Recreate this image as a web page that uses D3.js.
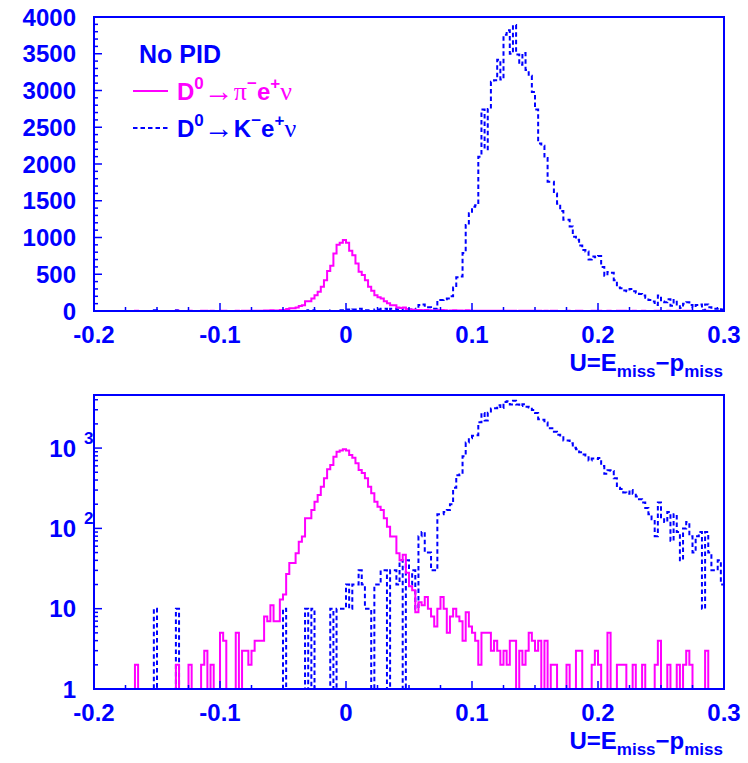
<!DOCTYPE html>
<html><head><meta charset="utf-8">
<script src="https://cdn.jsdelivr.net/npm/d3@7"></script>
<style>body{margin:0;background:#fff}</style>
</head><body><svg id="c" width="748" height="763"></svg>
<script>
// ---------------- data ----------------
const xMin = -0.2, xMax = 0.3;   // histogram range, 200 bins of 0.0025
const pionCounts = [
 0,0,0,0,0,0,0,0,0,0,
 1,0,0,2,0,0,0,0,0,0,
 0,0,0,0,0,0,2,0,0,0,
 2,0,0,0,2,3,0,2,0,0,
 5,4,1,0,1,5,1,3,3,2,
 3,4,4,4,8,7,11,7,7,13,
 15,27,37,37,49,68,79,134,134,169,
 215,261,330,420,545,617,782,902,930,966,
 930,820,760,646,533,490,420,330,274,215,
 186,169,134,105,79,79,49,40,47,28,
 19,17,9,12,11,14,10,8,6,10,
 14,10,5,8,10,8,7,4,9,6,
 5,4,2,5,5,5,3,4,3,2,
 3,2,4,4,0,3,2,3,5,4,
 3,4,0,4,0,2,2,0,0,0,
 2,0,0,3,3,0,0,0,2,3,
 2,0,0,5,0,0,2,2,2,0,
 0,2,0,0,2,0,0,0,2,4,
 0,0,2,0,0,2,0,2,3,2,
 0,0,0,0,3,0,0,0,0,0
];
const kaonCounts = [
 0,0,0,0,0,0,0,0,0,0,
 0,0,0,0,0,0,0,0,0,10,
 0,0,0,0,0,0,10,0,0,0,
 0,0,0,0,0,0,0,0,0,0,
 0,0,0,0,0,0,0,0,0,0,
 0,0,0,0,0,0,0,0,0,0,
 10,0,0,0,0,0,0,10,0,10,
 0,0,0,0,0,10,0,10,10,10,
 20,10,20,20,30,20,10,10,0,20,
 20,30,30,0,30,30,20,40,0,40,
 20,30,10,80,90,50,50,30,30,150,
 150,160,170,200,320,460,470,790,1170,1330,
 1420,1440,2100,2740,2200,2750,3120,3140,3420,3150,
 3760,3820,3500,3890,3490,3350,3510,3280,3200,2980,
 2740,2280,2250,2080,1760,1760,1600,1460,1360,1240,
 1240,1150,1010,970,890,830,810,700,740,730,
 750,600,480,530,520,420,320,310,280,270,
 300,270,250,230,210,180,150,130,80,210,
 130,120,160,70,150,90,40,100,120,80,
 50,80,90,10,90,50,30,30,40,20
];
const xTickValues = [-0.2, -0.1, 0, 0.1, 0.2, 0.3];
const xTickLabels = ["-0.2", "-0.1", "0", "0.1", "0.2", "0.3"];
const linTickValues = [0, 500, 1000, 1500, 2000, 2500, 3000, 3500, 4000];
const logTickValues = [1, 10, 100, 1000];
const logTickBase = ["1", "10", "10", "10"];
const logTickExp = ["", "", "2", "3"];
const linMax = 4000, logMin = 1, logMax = 4580;

// ---------------- drawing ----------------
const BLUE = "#0000ff", MAG = "#ff00ff";
const FONT = "'Liberation Sans', Arial, Helvetica, sans-serif";
const svg = d3.select("#c");
const x = d3.scaleLinear().domain([xMin, xMax]).range([94, 724]);

const panels = [
  {top: 17, bottom: 311, log: false},
  {top: 395, bottom: 689, log: true}
];

function histPoints(counts, y, isLog, skipLeadingZeros) {
  const n = counts.length, w = (xMax - xMin) / n;
  const base = isLog ? logMin : 0;
  let start = 0;
  if (skipLeadingZeros) { while (start < n && counts[start] <= 0) start++; }
  const pts = [[x(xMin + start * w), y(base)]];
  for (let i = start; i < n; i++) {
    const v = isLog ? Math.max(counts[i], logMin) : counts[i];
    pts.push([x(xMin + i * w), y(v)]);
    pts.push([x(xMin + (i + 1) * w), y(v)]);
  }
  pts.push([x(xMax), y(base)]);
  return pts;
}
const line = d3.line();

panels.forEach(p => {
  const y = p.log
    ? d3.scaleLog().domain([logMin, logMax]).range([p.bottom, p.top])
    : d3.scaleLinear().domain([0, linMax]).range([p.bottom, p.top]);
  const g = svg.append("g");

  // histograms (kaon dashed blue first, pion magenta on top)
  g.append("path").attr("d", line(histPoints(kaonCounts, y, p.log, false)))
    .attr("fill", "none").attr("stroke", BLUE).attr("stroke-width", 2)
    .attr("stroke-dasharray", "4.5,3");
  g.append("path").attr("d", line(histPoints(pionCounts, y, p.log, p.log)))
    .attr("fill", "none").attr("stroke", MAG).attr("stroke-width", 2);

  // frame
  g.append("rect").attr("x", x(xMin)).attr("y", p.top)
    .attr("width", x(xMax) - x(xMin)).attr("height", p.bottom - p.top)
    .attr("fill", "none").attr("stroke", BLUE).attr("stroke-width", 2);

  // x ticks: every 0.025, long at 0.1
  const xt = d3.range(0, 21).map(i => xMin + i * 0.025);
  xt.forEach((v, i) => {
    const len = (i % 4 === 0) ? 8 : 4;
    g.append("line").attr("x1", x(v)).attr("x2", x(v))
      .attr("y1", p.bottom).attr("y2", p.bottom - len)
      .attr("stroke", BLUE).attr("stroke-width", 1.5);
  });
  xTickValues.forEach((v, i) => {
    g.append("text").attr("x", x(v)).attr("y", p.bottom + 32)
      .attr("text-anchor", "middle").attr("fill", BLUE)
      .attr("font-family", FONT).attr("font-weight", "bold").attr("font-size", 24)
      .text(xTickLabels[i]);
  });

  // y ticks
  if (!p.log) {
    d3.range(0, linMax + 1, 100).forEach(v => {
      const len = (v % 500 === 0) ? 8 : 4;
      g.append("line").attr("x1", x(xMin)).attr("x2", x(xMin) + len)
        .attr("y1", y(v)).attr("y2", y(v))
        .attr("stroke", BLUE).attr("stroke-width", 1.5);
    });
    linTickValues.forEach(v => {
      g.append("text").attr("x", 76).attr("y", y(v) + 8.5)
        .attr("text-anchor", "end").attr("fill", BLUE)
        .attr("font-family", FONT).attr("font-weight", "bold").attr("font-size", 24)
        .text(String(v));
    });
  } else {
    for (let d = 0; d < 4; d++) {
      for (let k = 1; k <= 9; k++) {
        const v = k * Math.pow(10, d);
        if (v > logMax) continue;
        const len = (k === 1) ? 8 : 4;
        g.append("line").attr("x1", x(xMin)).attr("x2", x(xMin) + len)
          .attr("y1", y(v)).attr("y2", y(v))
          .attr("stroke", BLUE).attr("stroke-width", 1.5);
      }
    }
    logTickValues.forEach((v, i) => {
      g.append("text").attr("x", 76).attr("y", y(v) + 8.5)
        .attr("text-anchor", "end").attr("fill", BLUE)
        .attr("font-family", FONT).attr("font-weight", "bold").attr("font-size", 24)
        .text(logTickBase[i]);
      if (logTickExp[i]) {
        g.append("text").attr("x", 84).attr("y", y(v) - 4)
          .attr("fill", BLUE)
          .attr("font-family", FONT).attr("font-weight", "bold").attr("font-size", 17)
          .text(logTickExp[i]);
      }
    });
  }

  // axis title
  const t = g.append("text").attr("x", 723).attr("y", p.bottom + 60)
    .attr("text-anchor", "end").attr("fill", BLUE)
    .attr("font-family", FONT).attr("font-weight", "bold").attr("font-size", 24);
  t.append("tspan").text("U=E");
  t.append("tspan").attr("font-size", 17).attr("dy", 6).text("miss");
  t.append("tspan").attr("dy", -6).text("\u2212p");
  t.append("tspan").attr("font-size", 17).attr("dy", 6).text("miss");
});

// ---------------- legend ----------------
svg.append("text").attr("x", 139).attr("y", 63).attr("fill", BLUE)
  .attr("font-family", FONT).attr("font-weight", "bold").attr("font-size", 25)
  .text("No PID");

svg.append("line").attr("x1", 133).attr("x2", 168).attr("y1", 91).attr("y2", 91)
  .attr("stroke", MAG).attr("stroke-width", 2);
svg.append("line").attr("x1", 133).attr("x2", 168).attr("y1", 128).attr("y2", 128)
  .attr("stroke", BLUE).attr("stroke-width", 2).attr("stroke-dasharray", "4.5,3");

function legendText(yBase, color, parts) {
  const t = svg.append("text").attr("x", 177).attr("y", yBase).attr("fill", color)
    .attr("font-family", FONT).attr("font-weight", "bold").attr("font-size", 24);
  parts.forEach(pt => {
    const s = t.append("tspan").text(pt.t);
    if (pt.dy) s.attr("dy", pt.dy);
    if (pt.size) s.attr("font-size", pt.size);
    if (pt.serif) s.attr("font-family", "'Liberation Serif', 'DejaVu Serif', serif").attr("font-weight", "normal");
  });
}
legendText(100, MAG, [
  {t: "D"}, {t: "0", dy: -11, size: 17}, {t: "\u2192", dy: 12, size: 30},
  {t: "\u03c0", dy: -1, serif: true, size: 26}, {t: "\u2212", dy: -11, size: 17},
  {t: "e", dy: 11}, {t: "+", dy: -11, size: 17}, {t: "\u03bd", dy: 11, serif: true, size: 26}
]);
legendText(137, BLUE, [
  {t: "D"}, {t: "0", dy: -11, size: 17}, {t: "\u2192", dy: 12, size: 30},
  {t: "K", dy: -1}, {t: "\u2212", dy: -11, size: 17},
  {t: "e", dy: 11}, {t: "+", dy: -11, size: 17}, {t: "\u03bd", dy: 11, serif: true, size: 26}
]);
</script>
</body></html>
